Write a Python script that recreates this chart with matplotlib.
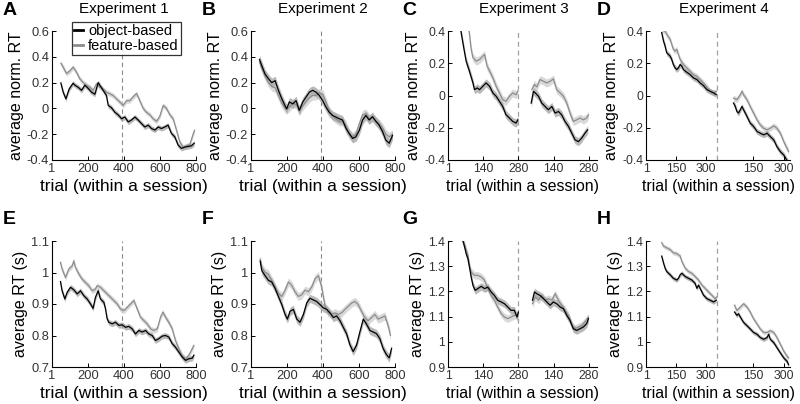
import matplotlib
matplotlib.use('Agg')
import matplotlib.pyplot as plt

plt.rcParams['font.family'] = ['Liberation Sans', 'DejaVu Sans']

W, H = 800, 404

# ---------------- data ----------------
# Panel A (Experiment 1, normalized RT)
A_obj_trial = [50,63,78,96,118,128,146,165,183,202,220,239,257,266,285,303,313,331,350,368,387,405,424,442,461,479,498,516,535,553,572,590,608,627,645,664,682,701,719,738,756,775,790]
A_obj_val = [0.197,0.126,0.074,0.15,0.195,0.18,0.164,0.14,0.18,0.155,0.126,0.11,0.2,0.18,0.14,0.1,0.023,0.005,-0.03,-0.05,-0.08,-0.067,-0.105,-0.09,-0.067,-0.09,-0.118,-0.144,-0.13,-0.156,-0.168,-0.144,-0.156,-0.144,-0.13,-0.195,-0.22,-0.285,-0.31,-0.3,-0.295,-0.29,-0.27]
A_feat_trial = [50,63,81,100,118,137,155,174,192,211,229,248,266,285,303,322,340,359,377,396,414,433,451,470,488,507,525,544,562,581,599,618,636,655,673,692,710,729,747,766,784,792]
A_feat_val = [0.35,0.32,0.27,0.29,0.32,0.28,0.23,0.2,0.18,0.165,0.14,0.19,0.165,0.15,0.126,0.113,0.1,0.074,0.05,0.023,0.06,0.06,0.09,0.115,0.06,0.0,-0.03,-0.05,-0.08,-0.1,-0.062,0.023,0.0,-0.05,-0.08,-0.17,-0.26,-0.3,-0.29,-0.28,-0.2,-0.17]

# Panel B (Experiment 2, normalized RT)
B_trial = [48,61,79,98,116,135,153,172,190,199,214,233,251,269,288,306,325,343,362,380,399,417,435,454,472,491,509,528,546,565,583,602,620,638,657,675,694,712,731,749,768,786]
B_obj_val = [0.38,0.33,0.267,0.23,0.2,0.215,0.14,0.075,0.02,-0.003,0.05,0.035,0.06,-0.015,0.05,0.087,0.126,0.14,0.126,0.1,0.06,0.01,-0.03,-0.055,-0.067,-0.08,-0.09,-0.155,-0.195,-0.233,-0.22,-0.17,-0.09,-0.055,-0.09,-0.064,-0.1,-0.13,-0.18,-0.246,-0.27,-0.21]
B_feat_val = [0.36,0.31,0.25,0.2,0.17,0.16,0.1,0.04,0.0,-0.01,0.01,0.04,0.03,-0.02,0.02,0.05,0.08,0.1,0.1,0.12,0.11,0.05,-0.02,-0.06,-0.08,-0.1,-0.1,-0.13,-0.2,-0.22,-0.2,-0.12,-0.05,-0.04,-0.08,-0.07,-0.1,-0.12,-0.15,-0.2,-0.22,-0.2]

# Panel C (Experiment 3, normalized RT), two sessions
C_obj_s1_trial = [50,60,67,73,86,100,106,117,126,139,152,166,179,192,205,218,231,245,258,271,278]
C_obj_s1_val = [0.42,0.327,0.265,0.213,0.151,0.078,0.036,0.047,0.036,0.057,0.078,0.057,0.016,-0.005,-0.036,-0.068,-0.119,-0.14,-0.161,-0.171,-0.151]
C_feat_s1_trial = [50,84,93,100,113,126,139,146,156,166,179,192,205,218,231,245,258,271,278]
C_feat_s1_val = [0.55,0.41,0.286,0.234,0.213,0.223,0.244,0.254,0.182,0.151,0.109,0.057,0.016,-0.026,-0.036,-0.005,0.016,0.005,0.026]
C_obj_s2_trial = [51,60,67,80,93,106,119,133,146,159,172,185,199,212,225,238,251,264,275]
C_obj_s2_val = [-0.047,0.026,0.016,-0.005,-0.047,-0.068,-0.088,-0.068,-0.109,-0.099,-0.12,-0.161,-0.192,-0.234,-0.275,-0.286,-0.265,-0.234,-0.213]
C_feat_s2_trial = [53,64,73,86,100,113,126,139,152,166,179,192,205,218,231,245,258,271,278]
C_feat_s2_val = [0.036,0.068,0.053,0.099,0.088,0.078,0.088,0.103,0.036,0.016,-0.005,-0.047,-0.109,-0.161,-0.151,-0.14,-0.151,-0.14,-0.12]

# Panel D (Experiment 4, normalized RT), two sessions
D_obj_s1_trial = [79,88,96,104,113,121,129,137,146,154,162,171,179,187,204,220,237,254,270,287,304,320,337,350]
D_obj_s1_val = [0.39,0.338,0.306,0.265,0.254,0.244,0.223,0.192,0.171,0.161,0.171,0.192,0.182,0.161,0.144,0.13,0.109,0.099,0.078,0.061,0.036,0.026,0.016,0.005]
D_feat_s1_trial = [79,96,104,121,129,137,146,154,162,171,187,204,220,237,254,270,287,304,320,337,350]
D_feat_s1_val = [0.406,0.4,0.379,0.348,0.317,0.286,0.275,0.286,0.254,0.223,0.192,0.171,0.151,0.13,0.119,0.099,0.078,0.053,0.026,0.016,0.026]
D_obj_s2_trial = [51,60,68,76,85,93,101,118,134,151,168,184,201,218,234,251,267,284,301,314,325]
D_obj_s2_val = [-0.047,-0.068,-0.099,-0.109,-0.088,-0.068,-0.088,-0.13,-0.171,-0.192,-0.223,-0.234,-0.244,-0.234,-0.255,-0.275,-0.317,-0.348,-0.369,-0.396,-0.42]
D_feat_s2_trial = [51,68,85,93,101,118,134,151,168,184,201,218,234,251,267,284,301,317,325]
D_feat_s2_val = [-0.016,-0.026,0.005,0.026,0.005,-0.026,-0.068,-0.109,-0.151,-0.182,-0.203,-0.213,-0.203,-0.188,-0.203,-0.234,-0.286,-0.327,-0.348]

# Panel E (Experiment 1, RT in s)
E_obj_trial = [48,57,72,85,104,122,141,159,178,196,215,229,242,257,270,289,298,307,316,335,353,372,390,409,427,446,464,483,501,520,538,557,575,594,612,631,649,668,686,705,723,742,760,779,788]
E_obj_val = [0.971,0.942,0.916,0.937,0.953,0.945,0.932,0.942,0.926,0.916,0.9,0.886,0.921,0.942,0.916,0.905,0.884,0.853,0.842,0.837,0.842,0.832,0.834,0.826,0.829,0.821,0.805,0.816,0.811,0.816,0.805,0.8,0.784,0.79,0.798,0.8,0.795,0.774,0.763,0.747,0.732,0.721,0.726,0.728,0.737]
E_feat_trial = [48,57,76,94,113,122,131,150,168,187,205,224,242,251,270,289,307,326,344,363,381,400,418,436,455,474,492,511,529,548,566,585,603,616,631,649,668,686,705,723,742,760,779,788]
E_feat_val = [1.032,1.011,0.984,1.011,1.021,1.037,1.016,0.995,0.979,0.968,0.958,0.942,0.947,0.958,0.953,0.942,0.932,0.921,0.911,0.9,0.884,0.879,0.889,0.9,0.911,0.884,0.858,0.847,0.837,0.821,0.816,0.821,0.858,0.874,0.858,0.842,0.821,0.784,0.758,0.737,0.726,0.737,0.758,0.768]

# Panel F (Experiment 2, RT in s)
F_obj_trial = [52,61,79,98,116,135,153,172,190,203,218,236,255,273,292,310,328,347,365,384,402,421,439,458,476,495,513,531,550,568,587,605,624,642,661,679,697,716,734,753,768,781]
F_obj_val = [1.036,1.006,0.99,0.975,0.97,0.949,0.924,0.898,0.867,0.852,0.877,0.883,0.852,0.842,0.867,0.903,0.918,0.913,0.908,0.898,0.888,0.883,0.872,0.857,0.862,0.847,0.826,0.806,0.77,0.749,0.77,0.811,0.852,0.836,0.816,0.811,0.806,0.79,0.759,0.739,0.729,0.759]
F_feat_trial = [52,61,79,98,116,135,153,172,190,209,227,245,264,282,301,319,338,356,375,393,412,430,448,467,485,504,522,541,559,578,596,614,633,651,670,688,707,725,744,762,775]
F_feat_val = [1.042,1.016,1.001,0.995,0.975,0.954,0.934,0.924,0.944,0.97,0.959,0.939,0.924,0.929,0.944,0.939,0.954,0.98,0.99,0.954,0.893,0.872,0.867,0.872,0.867,0.872,0.883,0.893,0.903,0.908,0.898,0.877,0.857,0.847,0.857,0.867,0.852,0.857,0.862,0.831,0.8]

# Panel G (Experiment 3, RT in s), two sessions
G_obj_s1_trial = [55,67,73,80,86,93,100,109,119,133,146,159,172,185,198,212,225,238,251,264,275,280]
G_obj_s1_val = [1.42,1.376,1.35,1.33,1.297,1.257,1.224,1.204,1.211,1.22,1.211,1.217,1.198,1.184,1.165,1.158,1.151,1.138,1.125,1.125,1.098,1.118]
G_feat_s1_trial = [55,67,80,86,93,106,119,133,146,159,172,185,198,212,225,238,251,264,278]
G_feat_s1_val = [1.42,1.383,1.343,1.303,1.277,1.264,1.264,1.257,1.244,1.211,1.184,1.165,1.138,1.112,1.098,1.092,1.098,1.105,1.105]
G_obj_s2_trial = [56,64,73,86,100,113,126,139,152,166,179,192,205,218,231,245,258,271,278]
G_obj_s2_val = [1.165,1.198,1.191,1.184,1.171,1.158,1.145,1.158,1.151,1.138,1.131,1.105,1.085,1.052,1.045,1.052,1.059,1.072,1.092]
G_feat_s2_trial = [56,67,80,93,106,119,133,146,159,172,185,199,212,225,238,251,264,278]
G_feat_s2_val = [1.151,1.178,1.165,1.184,1.165,1.171,1.165,1.191,1.165,1.145,1.125,1.105,1.065,1.052,1.059,1.065,1.079,1.098]

# Panel H (Experiment 4, RT in s), two sessions
H_obj_s1_trial = [79,88,96,104,113,121,137,154,162,171,179,196,212,229,245,254,262,270,287,304,320,337,350]
H_obj_s1_val = [1.34,1.313,1.292,1.279,1.272,1.266,1.252,1.245,1.252,1.266,1.272,1.259,1.252,1.245,1.232,1.212,1.225,1.212,1.185,1.171,1.165,1.158,1.165]
H_feat_s1_trial = [79,88,104,121,137,154,171,179,196,212,229,245,262,279,295,312,328,345,353]
H_feat_s1_val = [1.393,1.38,1.373,1.366,1.353,1.35,1.34,1.319,1.292,1.279,1.272,1.259,1.245,1.225,1.212,1.198,1.185,1.171,1.178]
H_obj_s2_trial = [56,68,76,85,101,118,134,151,168,184,201,218,226,234,251,267,284,301,317,325]
H_obj_s2_val = [1.118,1.105,1.111,1.098,1.077,1.064,1.051,1.037,1.03,1.017,1.01,1.017,1.03,1.01,0.997,0.977,0.956,0.936,0.923,0.909]
H_feat_s2_trial = [56,68,85,101,118,134,151,168,184,201,218,234,251,267,284,301,317,325]
H_feat_s2_val = [1.145,1.124,1.138,1.151,1.138,1.118,1.091,1.071,1.051,1.037,1.037,1.044,1.037,1.017,0.99,0.963,0.943,0.936]

# error band half widths (s.e.m.)
sem_norm = [0.02, 0.035, 0.025, 0.018]
sem_rt = [0.009, 0.013, 0.015, 0.009]

titles = ['Experiment 1', 'Experiment 2', 'Experiment 3', 'Experiment 4']
letters_top = ['A', 'B', 'C', 'D']
letters_bot = ['E', 'F', 'G', 'H']
legend_labels = ['object-based', 'feature-based']

norm_ticks = {2: [-0.4, -0.2, 0, 0.2, 0.4, 0.6], 1: [-0.4, -0.2, 0, 0.2, 0.4]}
norm_ticklabels = {2: ['-0.4', '-0.2', '0', '0.2', '0.4', '0.6'], 1: ['-0.4', '-0.2', '0', '0.2', '0.4']}
rt_ticks_12 = [0.7, 0.8, 0.9, 1.0, 1.1]
rt_ticklabels_12 = ['0.7', '0.8', '0.9', '1', '1.1']
rt_ticks_34 = [0.9, 1.0, 1.1, 1.2, 1.3, 1.4]
rt_ticklabels_34 = ['0.9', '1', '1.1', '1.2', '1.3', '1.4']

# x axis settings (session length / offset of 2nd session)
exp12_xticks = [1, 200, 400, 600, 800]
exp3_len, exp3_offset = 280, 280
exp3_xtick_sess = [140, 280]
exp4_len, exp4_offset = 356, 385
exp4_xtick_sess = [150, 300]

# ---------------- style ----------------
OBJ_COL = '#000000'
FEAT_COL = '#8c8c8c'
OBJ_BAND = '#a8a8a8'
FEAT_BAND = '#d0d0d0'
TICK_COL = '#333333'


def px_axes(fig, left, top, right, bottom):
    return fig.add_axes([left / W, 1 - bottom / H, (right - left) / W, (bottom - top) / H])


def style(ax, tsize):
    for s in ['top', 'right']:
        ax.spines[s].set_visible(False)
    for s in ['left', 'bottom']:
        ax.spines[s].set_linewidth(0.8)
    ax.tick_params(direction='in', length=3, width=0.7, labelsize=tsize,
                   labelcolor=TICK_COL, pad=2)


def curve(ax, x, y, sem, col, band, offset=0, lab=None):
    xx = [v + offset for v in x]
    lo = [v - sem for v in y]
    hi = [v + sem for v in y]
    ax.fill_between(xx, lo, hi, color=band, alpha=0.8, lw=0, zorder=1)
    return ax.plot(xx, y, color=col, lw=0.9, zorder=3, label=lab)[0]


fig = plt.figure(figsize=(W / 100, H / 100), dpi=100)

top_box = (31, 160)
bot_box = (241, 367)
cols = [(52, 196), (251, 395), (448, 597), (646, 790)]

axes_top = []
axes_bot = []
for i in range(4):
    axes_top.append(px_axes(fig, cols[i][0], top_box[0], cols[i][1], top_box[1]))
    axes_bot.append(px_axes(fig, cols[i][0], bot_box[0], cols[i][1], bot_box[1]))

# ----- Experiment 1 & 2 -----
exp12_sets = [
    (A_obj_trial, A_obj_val, A_feat_trial, A_feat_val, 0),
    (B_trial, B_obj_val, B_trial, B_feat_val, 1),
]
for (ox, oy, fx, fy, i) in exp12_sets:
    ax = axes_top[i]
    curve(ax, fx, fy, sem_norm[i], FEAT_COL, FEAT_BAND)
    curve(ax, ox, oy, sem_norm[i], OBJ_COL, OBJ_BAND)
    ax.set_ylim(-0.4, 0.6)
    ax.set_yticks(norm_ticks[2], norm_ticklabels[2])

exp12_rt = [
    (E_obj_trial, E_obj_val, E_feat_trial, E_feat_val, 0),
    (F_obj_trial, F_obj_val, F_feat_trial, F_feat_val, 1),
]
for (ox, oy, fx, fy, i) in exp12_rt:
    ax = axes_bot[i]
    curve(ax, fx, fy, sem_rt[i], FEAT_COL, FEAT_BAND)
    curve(ax, ox, oy, sem_rt[i], OBJ_COL, OBJ_BAND)
    ax.set_ylim(0.7, 1.1)
    ax.set_yticks(rt_ticks_12, rt_ticklabels_12)

for i in range(2):
    for ax in (axes_top[i], axes_bot[i]):
        ax.set_xlim(1, 800)
        ax.set_xticks(exp12_xticks, [str(v) for v in exp12_xticks])
        ax.axvline(387, color='#8a8a8a', lw=0.8, ls=(0, (4, 3)), zorder=0)

# ----- Experiment 3 & 4 -----
two_sess = [
    (axes_top[2], sem_norm[2], exp3_len, exp3_offset, exp3_xtick_sess,
     [(C_obj_s1_trial, C_obj_s1_val, C_feat_s1_trial, C_feat_s1_val, 0),
      (C_obj_s2_trial, C_obj_s2_val, C_feat_s2_trial, C_feat_s2_val, 1)], 'norm'),
    (axes_top[3], sem_norm[3], exp4_len, exp4_offset, exp4_xtick_sess,
     [(D_obj_s1_trial, D_obj_s1_val, D_feat_s1_trial, D_feat_s1_val, 0),
      (D_obj_s2_trial, D_obj_s2_val, D_feat_s2_trial, D_feat_s2_val, 1)], 'norm'),
    (axes_bot[2], sem_rt[2], exp3_len, exp3_offset, exp3_xtick_sess,
     [(G_obj_s1_trial, G_obj_s1_val, G_feat_s1_trial, G_feat_s1_val, 0),
      (G_obj_s2_trial, G_obj_s2_val, G_feat_s2_trial, G_feat_s2_val, 1)], 'rt'),
    (axes_bot[3], sem_rt[3], exp4_len, exp4_offset, exp4_xtick_sess,
     [(H_obj_s1_trial, H_obj_s1_val, H_feat_s1_trial, H_feat_s1_val, 0),
      (H_obj_s2_trial, H_obj_s2_val, H_feat_s2_trial, H_feat_s2_val, 1)], 'rt'),
]
for ax, sem, slen, soff, tks, sessions, kind in two_sess:
    for ox, oy, fx, fy, k in sessions:
        off = soff * k
        curve(ax, fx, fy, sem, FEAT_COL, FEAT_BAND, off)
        curve(ax, ox, oy, sem, OBJ_COL, OBJ_BAND, off)
    ax.axvline(slen, color='#a0a0a0', lw=0.9, ls=(0, (4, 3)), zorder=0)
    xt = [1] + tks + [soff + t for t in tks]
    xl = ['1'] + [str(t) for t in tks] * 2
    ax.set_xticks(xt, xl)
    ax.set_xlim(1, soff + tks[-1] + 32)
    if kind == 'norm':
        ax.set_ylim(-0.4, 0.4)
        ax.set_yticks(norm_ticks[1], norm_ticklabels[1])
    else:
        ax.set_ylim(0.9, 1.4)
        ax.set_yticks(rt_ticks_34, rt_ticklabels_34)

tick_sizes = [9.3, 9.3, 8.8, 8.8]
xlab_sizes = [12.5, 12.5, 11.4, 11.4]
for i in range(4):
    for ax in (axes_top[i], axes_bot[i]):
        style(ax, tick_sizes[i])
        ax.set_xlabel('trial (within a session)', fontsize=xlab_sizes[i], labelpad=3)
    axes_top[i].set_ylabel('average norm. RT', fontsize=11.5, labelpad=2)
    axes_bot[i].set_ylabel('average RT (s)', fontsize=11.5, labelpad=2)

# titles and panel letters
title_x = [124, 323, 524, 724]
for i in range(4):
    fig.text(title_x[i] / W, 1 - 9 / H, titles[i], ha='center', va='center', fontsize=11)
let_x = [3, 202, 402, 597]
for i in range(4):
    fig.text(let_x[i] / W, 1 - 2 / H, letters_top[i], ha='left', va='top',
             fontsize=14, fontweight='bold')
    fig.text(let_x[i] / W, 1 - 211 / H, letters_bot[i], ha='left', va='top',
             fontsize=14, fontweight='bold')

# legend in panel A
hA = axes_top[0].get_lines()
leg = axes_top[0].legend([hA[1], hA[0]], legend_labels, loc='upper left',
                         bbox_to_anchor=(72 / W, 1 - 22 / H), bbox_transform=fig.transFigure,
                         fontsize=10.5, frameon=True, fancybox=False, edgecolor='black',
                         handlelength=0.6, handletextpad=0.35, borderpad=0.15,
                         labelspacing=0.05, borderaxespad=0)
leg.get_frame().set_linewidth(0.9)
for l in leg.get_lines():
    l.set_linewidth(2)

fig.savefig('out.png', dpi=100)
